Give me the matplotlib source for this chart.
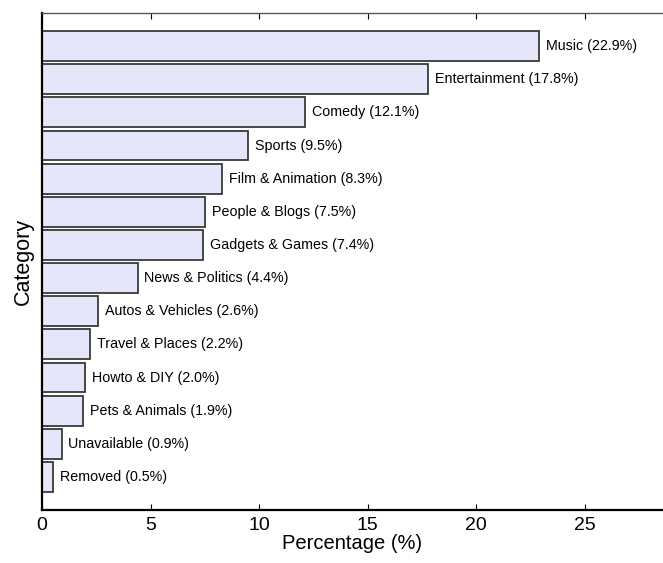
import matplotlib.pyplot as plt

categories = ["Music", "Entertainment", "Comedy", "Sports", "Film & Animation",
              "People & Blogs", "Gadgets & Games", "News & Politics",
              "Autos & Vehicles", "Travel & Places", "Howto & DIY",
              "Pets & Animals", "Unavailable", "Removed"]
percentages = [22.9, 17.8, 12.1, 9.5, 8.3, 7.5, 7.4, 4.4, 2.6, 2.2, 2.0, 1.9, 0.9, 0.5]
xticks = [0, 5, 10, 15, 20, 25]

plt.rcParams['font.family'] = ['Liberation Sans', 'DejaVu Sans']

fig = plt.figure(figsize=(6.63, 5.63), dpi=100)
ax = fig.add_axes([0.0633, 0.094, 0.9367, 0.883])

y = list(range(len(categories)))
ax.barh(y, percentages, height=0.9, color='#e6e6fa', edgecolor='#3a3a3a', linewidth=1.3)

for yi, cat, val in zip(y, categories, percentages):
    ax.annotate(f"{cat} ({val}%)", xy=(val, yi), xytext=(5, 0),
                textcoords='offset points', va='center', ha='left', fontsize=10.3)

ax.set_xlim(0, 28.6)
ax.set_ylim(len(categories), -1)
ax.set_xticks(xticks)
ax.set_yticks([])
ax.tick_params(axis='x', direction='in', top=True, length=4, labelsize=14, pad=5)
ax.spines['right'].set_visible(False)
for s in ['left', 'bottom']:
    ax.spines[s].set_linewidth(1.6)
ax.spines['top'].set_linewidth(1.0)
ax.spines['top'].set_color('#555555')

ax.set_xlabel("Percentage (%)", fontsize=14.5, labelpad=0)
ax.set_ylabel("Category", fontsize=15.5, labelpad=6)

fig.savefig("out.png", dpi=100)
